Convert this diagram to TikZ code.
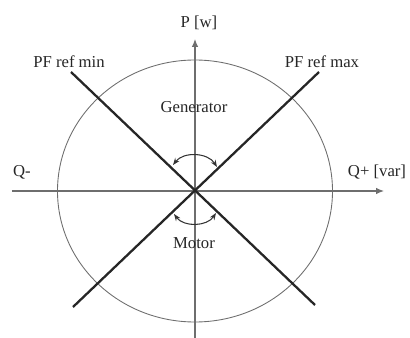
\documentclass[tikz,border=0pt]{standalone}
\usepackage{fontspec}
\setmainfont{Liberation Serif}
\usepackage{xcolor}
\definecolor{axisgray}{RGB}{110,110,110}
\usetikzlibrary{arrows.meta,positioning}

\begin{document}
\begin{tikzpicture}[
  x=0.02cm, y=-0.02cm,
  axis/.style={draw=axisgray, line width=0.6pt, -{Latex[length=1.6mm,width=1.3mm]}},
  pfline/.style={draw=black!85, line width=1.3pt},
  limit/.style={draw=axisgray, line width=0.5pt},
  turn/.style={draw=black!80, line width=0.6pt, {Stealth[length=1.4mm]}-{Stealth[length=1.4mm]}},
  lbl/.style={font=\fontsize{9.5}{11}\selectfont, text=black!85, inner sep=1pt}
]
\useasboundingbox (0,0) rectangle (410,338);

% quadrants
\coordinate (O) at (195,191);
\coordinate (qneg) at (12,191);
\coordinate (qpos) at (384,191);
\coordinate (pneg) at (195,338);
\coordinate (ppos) at (195,39);
\draw[limit] (O) ellipse [x radius=137.5, y radius=131];
\draw[axis] (qneg) -- (qpos);
\draw[axis] (pneg) -- (ppos);

% power factor limits
\coordinate (minA) at (71,72);
\coordinate (minB) at (315,305);
\coordinate (maxA) at (319,72);
\coordinate (maxB) at (73,307);
\draw[pfline] (minA) -- (minB);
\draw[pfline] (maxA) -- (maxB);

% operating ranges
\coordinate (gl) at (173,165);
\coordinate (gr) at (217,167);
\coordinate (ml) at (174,214);
\coordinate (mr) at (216,213);
\draw[turn] (gl) to[bend left=55] (gr);
\draw[turn] (ml) to[bend right=55] (mr);

\node[lbl] (p) at (199,23) {P [w]};
\node[lbl] (qm) at (22,172) {Q-};
\node[lbl] (qp) at (377,172) {Q+ [var]};
\node[lbl] (pfmin) at (69,62) {PF ref min};
\node[lbl] (pfmax) at (322,62) {PF ref max};
\node[lbl] (gen) at (194,107) {Generator};
\node[lbl] (mot) at (194,243) {Motor};
\end{tikzpicture}
\end{document}
